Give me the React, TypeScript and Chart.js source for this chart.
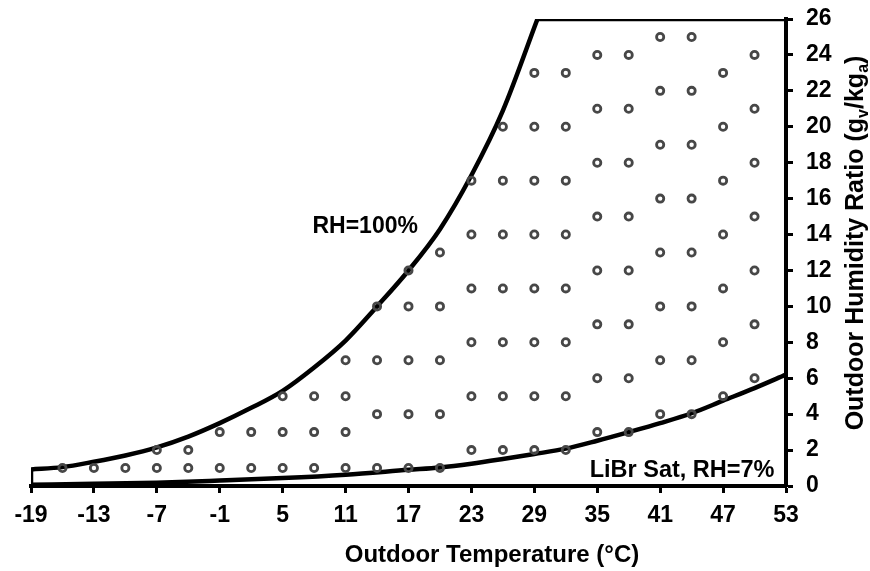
import { useEffect, useRef } from "react";
import { Chart, registerables } from "chart.js";

Chart.register(...registerables);

const FONT = '"Liberation Sans", Arial, Helvetica, sans-serif';

// Axis ticks
const tempTicks = [-19, -13, -7, -1, 5, 11, 17, 23, 29, 35, 41, 47, 53];
const humidityTicks = [0, 2, 4, 6, 8, 10, 12, 14, 16, 18, 20, 22, 24, 26];

// Test-condition grid: one column per outdoor temperature (°C),
// listing the humidity ratios (g/kg) tested at that temperature
const columnTemps = [-16, -13, -10, -7, -4, -1, 2, 5, 8, 11, 14, 17, 20, 23, 26, 29, 32, 35, 38, 41, 44, 47, 50];
const columnHumidity = [
  [1],
  [1],
  [1],
  [1, 2],
  [1, 2],
  [1, 3],
  [1, 3],
  [1, 3, 5],
  [1, 3, 5],
  [1, 3, 5, 7],
  [1, 4, 7, 10],
  [1, 4, 7, 10, 12],
  [1, 4, 7, 10, 13],
  [2, 5, 8, 11, 14, 17],
  [2, 5, 8, 11, 14, 17, 20],
  [2, 5, 8, 11, 14, 17, 20, 23],
  [2, 5, 8, 11, 14, 17, 20, 23],
  [3, 6, 9, 12, 15, 18, 21, 24],
  [3, 6, 9, 12, 15, 18, 21, 24],
  [4, 7, 10, 13, 16, 19, 22, 25],
  [4, 7, 10, 13, 16, 19, 22, 25],
  [5, 8, 11, 14, 17, 20, 23],
  [6, 9, 12, 15, 18, 21, 24],
];

// Saturation curve (RH=100%)
const satTemps = [-19, -16, -13, -10, -7, -4, -1, 2, 5, 8, 11, 14, 17, 20, 23, 26, 29.3];
const satHumidity = [0.92, 1.05, 1.35, 1.7, 2.15, 2.75, 3.5, 4.35, 5.3, 6.6, 8.1, 10.0, 12.0, 14.3, 17.3, 20.9, 26];

// Straight edges closing the region: left side at -19 °C and the 26 g/kg cap
const edgeLeftTemps = [-19, -19];
const edgeLeftHumidity = [0, 0.92];
const edgeTopTemps = [29.3, 53];
const edgeTopHumidity = [26, 26];

// LiBr saturation line (RH=7%)
const libTemps = [-19, -13, -7, -1, 5, 11, 17, 20, 23, 26, 29, 32, 35, 38, 41, 44, 47, 50, 53];
const libHumidity = [0.07, 0.12, 0.18, 0.3, 0.44, 0.63, 0.9, 1.03, 1.24, 1.5, 1.78, 2.08, 2.52, 3.0, 3.5, 4.05, 4.75, 5.45, 6.2];

const toPoints = (xs: number[], ys: number[]) => xs.map((x, i) => ({ x, y: ys[i] }));
const gridPoints = columnTemps.flatMap((t, i) => columnHumidity[i].map((w) => ({ x: t, y: w })));

type Part = { text: string; sub?: boolean };
const yTitleParts: Part[] = [
  { text: "Outdoor Humidity Ratio (g" },
  { text: "v", sub: true },
  { text: "/kg" },
  { text: "a", sub: true },
  { text: ")" },
];

const textPlugin = {
  id: "chartText",
  afterDraw(chart: any) {
    const { ctx } = chart;
    const xs = chart.scales.x;
    const ys = chart.scales.y;
    ctx.save();
    ctx.fillStyle = "#000";
    ctx.textBaseline = "alphabetic";

    // Curve labels
    ctx.font = `bold 23px ${FONT}`;
    ctx.textAlign = "right";
    ctx.fillText("RH=100%", xs.getPixelForValue(17.9), ys.getPixelForValue(14.1));
    ctx.font = `bold 23.5px ${FONT}`;
    ctx.fillText("LiBr Sat, RH=7%", xs.getPixelForValue(51.9), ys.getPixelForValue(0.5));

    // X axis title
    ctx.font = `bold 24px ${FONT}`;
    ctx.textAlign = "center";
    ctx.fillText("Outdoor Temperature (°C)", 492, 562);

    // Y axis title (rotated, with subscripts)
    const big = `bold 25px ${FONT}`;
    const small = `bold 16px ${FONT}`;
    ctx.translate(863, 243);
    ctx.rotate(-Math.PI / 2);
    ctx.textAlign = "left";
    let total = 0;
    for (const p of yTitleParts) {
      ctx.font = p.sub ? small : big;
      total += ctx.measureText(p.text).width;
    }
    let x = -total / 2;
    for (const p of yTitleParts) {
      ctx.font = p.sub ? small : big;
      ctx.fillText(p.text, x, p.sub ? 5 : 0);
      x += ctx.measureText(p.text).width;
    }
    ctx.restore();
  },
};

const lineStyle = {
  showLine: true,
  borderColor: "#000",
  borderWidth: 4.5,
  pointRadius: 0,
  fill: false,
  order: 1,
};

export default function App() {
  const canvasRef = useRef<HTMLCanvasElement | null>(null);

  useEffect(() => {
    const canvas = canvasRef.current;
    if (!canvas) return;
    const tickFont = { family: FONT, size: 23, weight: "bold" as const };
    const chart = new Chart(canvas, {
      type: "scatter",
      data: {
        datasets: [
          {
            label: "Test conditions",
            data: gridPoints,
            showLine: false,
            pointStyle: "circle",
            pointRadius: 3.6,
            pointBorderWidth: 2.8,
            pointBorderColor: "#474747",
            pointBackgroundColor: "rgba(0,0,0,0)",
            order: 0,
          },
          { label: "RH=100%", data: toPoints(satTemps, satHumidity), cubicInterpolationMode: "monotone", ...lineStyle },
          { label: "left edge", data: toPoints(edgeLeftTemps, edgeLeftHumidity), ...lineStyle },
          { label: "cap", data: toPoints(edgeTopTemps, edgeTopHumidity), ...lineStyle },
          { label: "LiBr Sat, RH=7%", data: toPoints(libTemps, libHumidity), cubicInterpolationMode: "monotone", ...lineStyle },
        ],
      },
      options: {
        responsive: false,
        animation: false,
        layout: { padding: { left: 31, top: 19, right: 0, bottom: 0 } },
        plugins: { legend: { display: false }, tooltip: { enabled: false } },
        scales: {
          x: {
            type: "linear",
            position: "bottom",
            min: -19,
            max: 53,
            afterBuildTicks: (s: any) => {
              s.ticks = tempTicks.map((v) => ({ value: v }));
            },
            afterFit: (s: any) => {
              s.height = 85;
              s.paddingLeft = 0;
              s.paddingRight = 0;
            },
            grid: {
              display: true,
              drawOnChartArea: false,
              drawTicks: true,
              tickLength: 7,
              tickWidth: 3,
              tickColor: "#000",
            },
            border: { display: true, color: "#000", width: 4 },
            ticks: { font: tickFont, color: "#000", padding: 9, maxRotation: 0, autoSkip: false },
          },
          y: {
            type: "linear",
            position: "right",
            min: 0,
            max: 26,
            afterBuildTicks: (s: any) => {
              s.ticks = humidityTicks.map((v) => ({ value: v }));
            },
            afterFit: (s: any) => {
              s.width = 84;
              s.paddingTop = 0;
              s.paddingBottom = 0;
            },
            grid: {
              display: true,
              drawOnChartArea: false,
              drawTicks: true,
              tickLength: 7,
              tickWidth: 3,
              tickColor: "#000",
            },
            border: { display: true, color: "#000", width: 4 },
            ticks: { font: tickFont, color: "#000", padding: 13, autoSkip: false },
          },
        },
      },
      plugins: [textPlugin],
    });
    return () => chart.destroy();
  }, []);

  return (
    <div style={{ position: "absolute", left: 0, top: 0, width: 870, height: 571, background: "#fff" }}>
      <canvas ref={canvasRef} width={870} height={571} style={{ display: "block" }} />
    </div>
  );
}
